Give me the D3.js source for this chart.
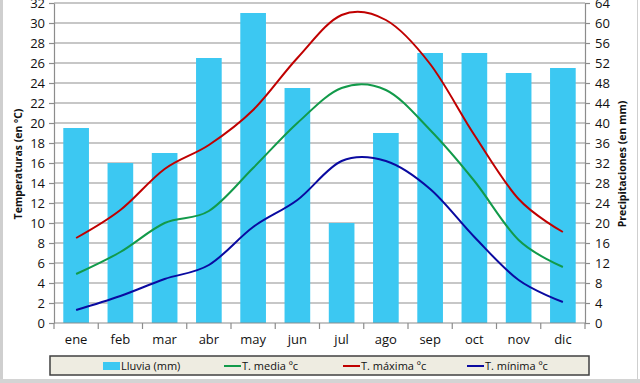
<!DOCTYPE html>
<html><head><meta charset="utf-8">
<script src="https://cdn.jsdelivr.net/npm/d3@7"></script>
<style>
body{margin:0;background:#fff;}
svg{display:block;font-family:"Open Sans",Lato,sans-serif;}
</style></head>
<body>
<svg id="c" width="640" height="383"></svg>
<script>
const months = ["ene","feb","mar","abr","may","jun","jul","ago","sep","oct","nov","dic"];
const rain   = [39,32,34,53,62,47,20,38,54,54,50,51];
const tMax   = [8.5,11.3,15.4,17.8,21.3,26.5,30.8,30.3,25.9,18.8,12.4,9.1];
const tMed   = [4.9,7.1,10.0,11.2,15.5,20.0,23.5,23.3,19.3,14.2,8.3,5.6];
const tMin   = [1.3,2.7,4.4,5.8,9.6,12.3,16.2,16.2,13.4,8.6,4.3,2.1];
const leftTicks  = d3.range(0,33,2);
const rightTicks = d3.range(0,65,4);
const legendItems = [
  {label:"Lluvia (mm)", type:"bar", color:"#3cc8f2"},
  {label:"T. media ºc", type:"line", color:"#129a4a"},
  {label:"T. máxima ºc", type:"line", color:"#c00000"},
  {label:"T. mínima ºc", type:"line", color:"#0a0aa0"}
];
const series = [
  {values:tMed, color:"#129a4a"},
  {values:tMax, color:"#c00000"},
  {values:tMin, color:"#0a0aa0"}
];

const svg = d3.select("#c");
const L=54, R=585, T=3, B=323;
const x = d3.scaleBand().domain(months).range([L,R]).paddingInner(0.42).paddingOuter(0.21);
const xc = d3.scaleBand().domain(months).range([L,R]);
const yL = d3.scaleLinear().domain([0,32]).range([B,T]);
const yR = d3.scaleLinear().domain([0,64]).range([B,T]);

// outer frame
svg.append("rect").attr("x",0).attr("y",0).attr("width",640).attr("height",383).attr("fill","#fff");
svg.append("rect").attr("x",0).attr("y",0).attr("width",3).attr("height",383).attr("fill","#cfcfcf");
svg.append("rect").attr("x",0).attr("y",379).attr("width",640).attr("height",4).attr("fill","#d4d4d4");
svg.append("line").attr("x1",637.5).attr("x2",637.5).attr("y1",0).attr("y2",379).attr("stroke","#cfcfcf").attr("stroke-width",1);

// grid
svg.append("g").selectAll("line").data(leftTicks.filter(d=>d>0)).join("line")
  .attr("x1",L).attr("x2",R).attr("y1",d=>yL(d)).attr("y2",d=>yL(d))
  .attr("stroke","#b4b4b4").attr("stroke-width",1.4);

// bars
svg.append("g").selectAll("rect").data(months).join("rect")
  .attr("x",d=>x(d)).attr("width",x.bandwidth())
  .attr("y",(d,i)=>yR(rain[i])).attr("height",(d,i)=>B-yR(rain[i]))
  .attr("fill","#3cc8f2");

// lines
const line = d3.line().x((d,i)=>xc(months[i])+xc.bandwidth()/2).y(d=>yL(d)).curve(d3.curveCardinal.tension(0));
series.forEach(s=>{
  svg.append("path").attr("d",line(s.values)).attr("fill","none")
    .attr("stroke",s.color).attr("stroke-width",2);
});

// axes
const axStyle = g=>{
  g.selectAll(".domain").attr("stroke","#8c8c8c").attr("stroke-width",1.2);
  g.selectAll(".tick line").attr("stroke","#8c8c8c").attr("stroke-width",1.2);
  g.selectAll("text").attr("font-size",13).attr("fill","#111").attr("font-family","'Open Sans',Lato,sans-serif");
};
svg.append("g").attr("transform",`translate(${L},0)`)
  .call(d3.axisLeft(yL).tickValues(leftTicks).tickSize(5).tickPadding(4).tickSizeOuter(0)).call(axStyle);
svg.append("g").attr("transform",`translate(${R},0)`)
  .call(d3.axisRight(yR).tickValues(rightTicks).tickSize(5).tickPadding(5).tickSizeOuter(0)).call(axStyle);
const xg = svg.append("g").attr("transform",`translate(0,${B})`)
  .call(d3.axisBottom(xc).tickSize(0).tickPadding(12)).call(axStyle);
xg.select(".domain").attr("d",`M${L},0H${R}`);
// category separators
svg.append("g").selectAll("line").data(months.slice(1)).join("line")
  .attr("x1",d=>xc(d)).attr("x2",d=>xc(d)).attr("y1",B).attr("y2",B+6)
  .attr("stroke","#8c8c8c").attr("stroke-width",1.2);
svg.append("line").attr("x1",L).attr("x2",L).attr("y1",B).attr("y2",B+6).attr("stroke","#8c8c8c").attr("stroke-width",1.2);
svg.append("line").attr("x1",R).attr("x2",R).attr("y1",B).attr("y2",B+6).attr("stroke","#8c8c8c").attr("stroke-width",1.2);

// axis titles
svg.append("text").attr("transform","translate(22,164) rotate(-90)").attr("text-anchor","middle")
  .attr("font-size",10.5).attr("font-weight","bold").attr("fill","#111").text("Temperaturas (en ºC)");
svg.append("text").attr("transform","translate(626,164) rotate(-90)").attr("text-anchor","middle")
  .attr("font-size",10.5).attr("font-weight","bold").attr("fill","#111").text("Precipitaciones (en mm)");

// legend
svg.append("rect").attr("x",50).attr("y",356).attr("width",539).attr("height",19)
  .attr("fill","#eeece1").attr("stroke","#404040").attr("stroke-width",1.5);
const lx = [103,224,343,467];
const lg = svg.append("g").selectAll("g").data(legendItems).join("g")
  .attr("transform",(d,i)=>`translate(${lx[i]},366)`);
lg.each(function(d){
  const g=d3.select(this);
  if(d.type==="bar") g.append("rect").attr("x",0).attr("y",-4).attr("width",17).attr("height",8).attr("fill",d.color);
  else g.append("line").attr("x1",0).attr("x2",17).attr("y1",0).attr("y2",0).attr("stroke",d.color).attr("stroke-width",2);
});
lg.append("text").attr("x",18).attr("y",4).attr("font-size",11).attr("fill","#111").text(d=>d.label);
</script>
</body></html>
